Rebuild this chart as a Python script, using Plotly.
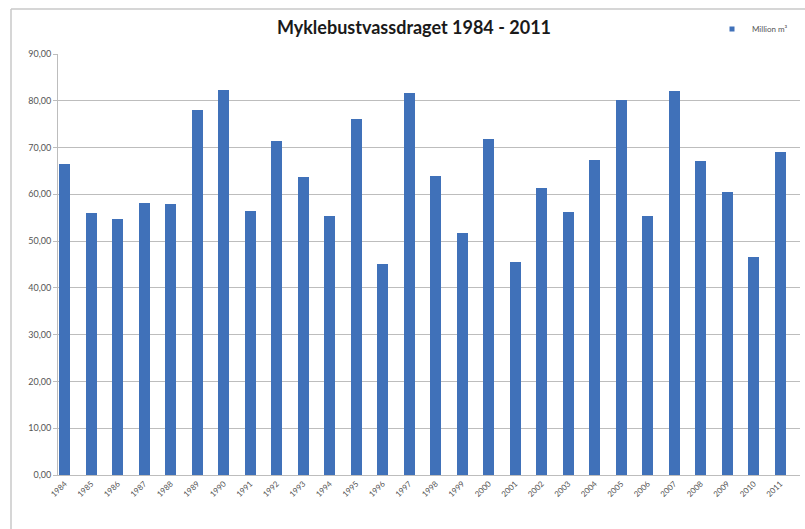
import plotly.graph_objects as go

# Annual runoff, Myklebustvassdraget (million m³)
years = [str(y) for y in range(1984, 2012)]
runoff = [66.5, 56.0, 54.8, 58.2, 58.0, 78.0, 82.2, 56.5, 71.4, 63.7,
          55.4, 76.0, 45.1, 81.7, 63.9, 51.8, 71.8, 45.6, 61.3, 56.3,
          67.4, 80.1, 55.3, 82.0, 67.2, 60.5, 46.6, 69.0]
y_ticks = [0, 10, 20, 30, 40, 50, 60, 70, 80, 90]

title_text = "Myklebustvassdraget 1984 - 2011"
series_name = "Million m³"

BAR = "#4071b9"
GRID = "#bdbdbd"
FONT = "Lato, 'Open Sans', sans-serif"

W, H = 805, 529
ML, MR, MT, MB = 58, 5, 54, 54
pw = W - ML - MR
ph = H - MT - MB

xpos = list(range(len(years)))


def px_to_paper_x(px):
    return (px - ML) / pw


def px_to_paper_y(py):
    return (H - MB - py) / ph


fig = go.Figure()
fig.add_trace(go.Bar(
    x=xpos, y=runoff, name=series_name, showlegend=False,
    marker=dict(color=BAR, line=dict(width=0)),
    width=0.42,
))
# legend entry with a small square swatch
fig.add_trace(go.Scatter(
    x=[None], y=[None], mode="markers", name=series_name,
    marker=dict(symbol="square", size=5, color=BAR),
))

# outer chart frame (top and left edges)
fig.add_shape(type="line", xref="paper", yref="paper",
              x0=px_to_paper_x(11), x1=px_to_paper_x(W + 5),
              y0=px_to_paper_y(9), y1=px_to_paper_y(9),
              line=dict(color="#c8c8c8", width=1.5), layer="below")
fig.add_shape(type="line", xref="paper", yref="paper",
              x0=px_to_paper_x(11), x1=px_to_paper_x(11),
              y0=px_to_paper_y(9), y1=px_to_paper_y(H + 5),
              line=dict(color="#c8c8c8", width=1.5), layer="below")

fig.update_layout(
    width=W, height=H,
    margin=dict(l=ML, r=MR, t=MT, b=MB, pad=0),
    paper_bgcolor="white", plot_bgcolor="white",
    separators=",.",
    title=dict(text=title_text, x=414 / W, xanchor="center",
               y=1 - 28 / H, yanchor="middle",
               font=dict(family=FONT, size=18, color="#1a1a1a", weight="bold")),
    showlegend=True,
    legend=dict(x=px_to_paper_x(712), y=px_to_paper_y(29), xref="paper", yref="paper",
                xanchor="left", yanchor="middle",
                font=dict(family=FONT, size=8, color="#555555"),
                bgcolor="rgba(0,0,0,0)", itemwidth=30, tracegroupgap=0),
    bargap=0,
    font=dict(family=FONT),
)

fig.update_xaxes(
    range=[-0.25, 27.75],
    tickmode="array", tickvals=xpos, ticktext=years,
    tickangle=-45, tickfont=dict(size=8, color="#555555", family=FONT),
    showgrid=False, zeroline=False,
    showline=True, linecolor=GRID, linewidth=1,
    ticks="", fixedrange=True,
)
fig.update_yaxes(
    range=[0, 90],
    tickmode="array", tickvals=y_ticks,
    tickformat=".2f",
    tickfont=dict(size=9, color="#555555", family=FONT),
    showgrid=True, gridcolor=GRID, gridwidth=1,
    zeroline=False,
    showline=True, linecolor=GRID, linewidth=1,
    ticks="outside", ticklen=4, tickcolor=GRID,
    fixedrange=True,
)

fig.write_html("out.html")
